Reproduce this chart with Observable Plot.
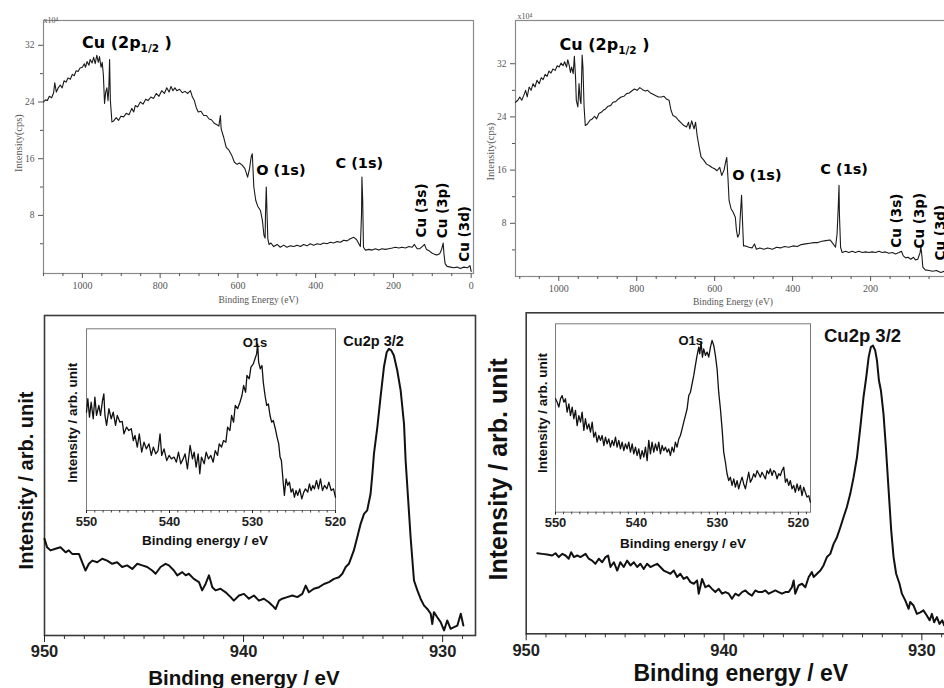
<!DOCTYPE html>
<html><head><meta charset="utf-8">
<script src="https://cdn.jsdelivr.net/npm/d3@7"></script>
<script src="https://cdn.jsdelivr.net/npm/@observablehq/plot@0.6"></script>
<style>
html,body{margin:0;padding:0;background:#fff;overflow:hidden;}
#fig{position:relative;width:944px;height:688px;overflow:hidden;background:#fff;}
#fig > div{position:absolute;}
#fig svg{max-width:none !important;}
</style></head><body><div id="fig"></div>
<script>
// ---------- DATA ----------
// Survey spectra: [binding energy (eV), intensity (x10^4 cps)]
const surveyLeft = [
[1100,24.0],[1095,24.3],[1090,24.2],[1085,24.8],[1079,24.6],[1074,25.3],[1071,26.7],[1067,25.4],[1062,26.0],[1057,26.4],[1052,26.0],[1047,27.0],[1042,26.8],[1037,27.4],[1031,27.2],[1026,27.9],[1021,27.7],[1016,28.4],[1011,28.3],[1006,28.8],[1000,28.9],[995,29.4],[992,28.9],[988,29.7],[983,29.2],[980,30.0],[975,29.5],[971,30.3],[967,29.4],[963,30.6],[959,29.6],[956,30.4],[952,28.9],[949,29.6],[946,27.8],[943,23.8],[940,25.4],[937,26.0],[934,24.2],[932,25.9],[930,30.0],[928,24.2],[924,21.2],[920,21.3],[913,21.8],[907,21.4],[901,22.0],[894,21.9],[887,22.4],[880,22.2],[873,23.1],[868,22.6],[864,23.5],[858,23.3],[851,24.0],[844,23.7],[837,24.4],[831,24.2],[824,24.7],[817,24.5],[810,25.2],[803,24.8],[796,25.6],[789,25.2],[783,26.0],[777,25.4],[772,26.2],[767,25.6],[762,26.0],[757,25.6],[750,25.8],[743,25.3],[736,25.5],[729,25.2],[722,25.6],[717,24.7],[712,24.2],[707,23.2],[702,22.6],[695,22.7],[688,22.1],[681,22.1],[674,21.6],[668,21.5],[661,21.0],[654,20.8],[649,20.6],[645,22.1],[643,20.2],[637,19.1],[630,17.6],[623,17.2],[616,16.5],[609,15.5],[602,15.2],[596,15.4],[589,15.1],[582,14.6],[575,13.4],[570,14.6],[566,16.2],[563,16.7],[559,12.0],[554,10.1],[549,9.3],[542,8.7],[537,7.3],[533,5.2],[530,4.8],[529,8.2],[527,12.0],[525,8.2],[523,4.7],[520,3.9],[515,4.1],[508,3.6],[499,3.9],[491,3.5],[482,3.8],[474,3.5],[465,3.7],[456,3.6],[448,3.8],[439,3.6],[431,3.9],[422,3.7],[414,4.0],[405,3.8],[396,4.0],[388,3.9],[379,4.1],[371,4.0],[362,4.2],[354,4.1],[345,4.3],[336,4.2],[328,4.5],[319,4.4],[311,4.7],[302,4.9],[295,4.6],[290,4.1],[285,3.6],[282,8.2],[281,13.4],[279,10.1],[277,3.5],[272,3.1],[263,3.2],[255,3.1],[246,3.3],[238,3.1],[229,3.3],[221,3.2],[212,3.3],[203,3.4],[195,3.5],[186,3.4],[178,3.5],[169,3.4],[160,3.6],[152,3.5],[146,3.9],[139,3.3],[132,3.3],[126,3.6],[120,3.9],[115,3.2],[108,3.0],[101,2.7],[94,2.5],[88,2.4],[81,2.6],[76,3.2],[72,4.1],[70,2.6],[67,1.2],[62,0.8],[53,0.7],[45,0.6],[36,0.7],[28,0.5],[19,0.7],[10,0.6],[3,0.9],[0,0.1]
];
const surveyRight = [
[1111,26.2],[1105,26.5],[1100,27.0],[1095,26.5],[1090,27.2],[1085,28.0],[1081,27.0],[1076,28.5],[1071,28.0],[1066,29.0],[1061,28.5],[1056,29.5],[1050,29.0],[1045,29.9],[1040,29.6],[1035,30.4],[1030,30.1],[1025,30.9],[1020,30.6],[1015,31.2],[1009,31.0],[1004,31.7],[999,31.5],[994,32.1],[989,31.7],[985,32.3],[980,31.5],[977,32.6],[973,31.7],[970,30.7],[967,31.5],[963,30.5],[960,33.1],[957,30.0],[955,26.5],[951,25.5],[948,29.0],[945,26.5],[943,26.0],[940,33.3],[938,31.5],[935,25.5],[932,22.7],[927,22.9],[920,23.5],[914,23.7],[908,24.1],[903,23.7],[897,24.5],[891,24.7],[886,25.0],[880,25.2],[874,25.6],[867,25.7],[861,26.2],[854,26.3],[847,26.7],[840,27.0],[833,27.1],[826,27.5],[819,27.6],[813,27.9],[806,28.2],[799,28.0],[792,28.4],[785,28.1],[778,27.9],[772,28.0],[765,27.6],[758,27.4],[751,27.2],[744,27.0],[737,27.0],[730,27.1],[724,26.7],[717,26.5],[712,25.0],[707,24.2],[700,24.0],[693,23.5],[686,23.1],[679,22.7],[672,22.5],[667,23.2],[664,22.2],[659,23.4],[653,22.2],[649,23.2],[645,21.2],[640,19.5],[635,18.0],[628,17.5],[621,16.9],[614,16.7],[607,16.4],[600,16.2],[594,15.9],[587,16.4],[582,15.2],[576,16.0],[572,17.2],[569,17.9],[566,14.9],[563,11.4],[558,10.2],[553,9.7],[547,8.9],[544,6.9],[541,5.9],[537,6.4],[534,9.4],[531,12.2],[529,8.9],[526,4.6],[521,4.6],[512,4.4],[504,4.3],[498,4.9],[493,4.1],[484,4.3],[474,4.1],[464,4.3],[452,4.1],[441,4.4],[431,4.3],[421,4.5],[410,4.4],[399,4.6],[388,4.5],[378,4.8],[367,4.9],[356,5.0],[345,5.1],[335,5.1],[325,5.3],[315,5.4],[304,5.5],[296,4.9],[290,4.4],[286,6.4],[283,10.4],[281,13.7],[280,9.4],[277,4.4],[273,3.6],[264,3.8],[256,3.6],[247,3.8],[239,3.6],[230,3.8],[221,3.6],[213,3.7],[204,3.6],[196,3.7],[187,3.6],[179,3.8],[170,3.6],[162,3.7],[153,3.5],[144,3.6],[136,3.4],[127,3.6],[121,3.8],[116,3.1],[110,2.8],[104,2.9],[97,2.6],[90,2.9],[85,2.5],[79,2.6],[73,3.6],[71,4.5],[68,2.9],[66,1.4],[60,1.0],[50,0.9],[41,0.8],[31,0.9],[20,0.6],[10,0.8]
];
// Cu2p 3/2 high-resolution spectra: [binding energy (eV), intensity (arb. unit, 0-100)]
const cu2pLeft = [
[950.0,30.2],[949.87,27.6],[949.70,26.6],[949.45,27.1],[949.20,27.6],[948.94,26.0],[948.78,26.6],[948.61,25.5],[948.27,25.5],[948.11,22.9],[947.94,20.3],[947.77,22.4],[947.60,23.4],[947.35,22.9],[947.10,24.0],[946.85,23.4],[946.60,22.4],[946.35,22.9],[946.10,21.4],[945.85,21.9],[945.59,20.8],[945.34,22.4],[945.09,21.9],[944.84,21.4],[944.59,20.3],[944.42,19.3],[944.17,21.4],[943.92,22.4],[943.75,21.9],[943.50,20.3],[943.33,18.8],[943.08,19.8],[942.91,18.8],[942.75,19.3],[942.50,17.7],[942.24,16.7],[942.08,14.1],[941.91,16.1],[941.74,18.8],[941.57,15.1],[941.41,14.1],[941.16,14.6],[940.90,13.5],[940.65,12.0],[940.49,10.9],[940.23,12.5],[939.98,13.0],[939.73,11.5],[939.48,12.5],[939.23,10.9],[938.98,11.5],[938.73,10.4],[938.56,9.4],[938.39,8.3],[938.22,10.9],[938.06,11.5],[937.81,12.0],[937.55,12.5],[937.30,12.0],[937.05,13.0],[936.88,15.6],[936.72,13.5],[936.47,14.6],[936.21,15.1],[935.96,16.1],[935.71,16.7],[935.46,17.7],[935.21,18.2],[935.04,19.3],[934.87,21.4],[934.71,22.4],[934.46,26.6],[934.29,30.7],[934.12,34.9],[933.95,38.0],[933.79,39.1],[933.62,44.3],[933.53,50.5],[933.45,56.8],[933.28,65.1],[933.12,74.5],[932.95,83.9],[932.81,88.5],[932.70,89.6],[932.58,89.1],[932.45,87.5],[932.28,82.8],[932.11,76.6],[931.94,66.1],[931.86,54.7],[931.74,43.2],[931.61,30.7],[931.44,17.2],[931.27,14.1],[931.11,11.5],[930.94,9.4],[930.77,8.3],[930.60,6.8],[930.52,3.6],[930.44,7.3],[930.27,5.7],[930.10,4.2],[929.93,1.6],[929.77,4.7],[929.60,2.1],[929.43,2.6],[929.26,3.1],[929.09,6.8],[928.96,3.1]
];
const cu2pRight = [
[949.44,25.1],[949.19,24.9],[948.94,24.7],[948.69,24.4],[948.52,25.1],[948.35,23.9],[948.18,24.9],[948.01,24.4],[947.85,23.4],[947.73,25.4],[947.59,23.9],[947.42,24.4],[947.26,23.9],[947.00,24.9],[946.84,23.4],[946.67,22.8],[946.50,21.8],[946.33,23.4],[946.16,22.3],[945.99,23.9],[945.86,24.4],[945.74,20.8],[945.57,22.3],[945.40,19.7],[945.24,22.3],[945.07,20.8],[944.90,22.8],[944.73,21.3],[944.56,22.3],[944.39,20.8],[944.23,21.8],[944.06,20.2],[943.89,21.8],[943.72,20.8],[943.55,21.3],[943.38,21.8],[943.22,20.8],[943.05,19.7],[942.88,19.2],[942.71,18.7],[942.54,19.7],[942.37,17.7],[942.21,18.7],[942.04,17.1],[941.87,17.7],[941.70,16.1],[941.53,15.6],[941.36,16.6],[941.28,12.5],[941.11,17.1],[940.94,14.5],[940.77,15.1],[940.61,14.0],[940.44,13.0],[940.27,14.0],[940.10,12.5],[939.93,13.0],[939.76,12.5],[939.60,10.9],[939.43,12.5],[939.26,11.9],[939.09,13.0],[938.92,13.5],[938.75,12.5],[938.59,11.9],[938.42,13.5],[938.25,13.0],[938.08,13.0],[937.91,13.5],[937.74,12.5],[937.58,13.0],[937.41,13.5],[937.24,13.0],[937.07,12.5],[936.90,13.0],[936.73,13.0],[936.57,14.5],[936.48,16.6],[936.40,12.5],[936.23,15.1],[936.06,15.6],[935.89,14.5],[935.72,17.7],[935.56,19.2],[935.47,17.7],[935.30,18.7],[935.13,19.7],[934.97,21.3],[934.80,23.9],[934.63,24.9],[934.46,28.0],[934.29,30.1],[934.12,33.2],[933.96,36.3],[933.79,39.5],[933.62,43.6],[933.45,48.8],[933.28,55.0],[933.11,64.4],[932.95,73.7],[932.81,80.0],[932.69,86.2],[932.58,89.3],[932.47,89.8],[932.36,88.3],[932.27,85.2],[932.17,78.9],[932.07,75.8],[931.94,68.5],[931.82,58.2],[931.68,44.7],[931.55,32.2],[931.43,23.9],[931.30,18.7],[931.13,15.6],[931.01,12.5],[930.84,10.4],[930.67,7.8],[930.59,9.9],[930.42,8.8],[930.25,6.2],[930.08,6.7],[929.92,7.3],[929.75,5.7],[929.61,4.2],[929.49,6.2],[929.38,3.6],[929.24,5.2],[929.11,3.1],[928.97,4.2],[928.87,2.6]
];
// O1s inset spectra: [binding energy (eV), intensity (arb. unit, 0-100)]
const o1sLeft = [
[550.00,54.1],[549.84,61.5],[549.64,51.4],[549.44,59.6],[549.19,50.5],[548.99,62.4],[548.79,52.3],[548.51,57.8],[548.31,52.3],[548.07,60.6],[547.91,64.2],[547.78,52.3],[547.58,46.8],[547.30,56.0],[547.02,50.5],[546.78,54.1],[546.50,46.8],[546.29,52.3],[545.97,48.6],[545.69,49.0],[545.49,42.2],[545.17,45.9],[544.89,44.0],[544.60,45.0],[544.36,38.5],[544.16,41.3],[543.88,34.9],[543.64,42.2],[543.35,32.1],[543.07,37.6],[542.79,33.9],[542.47,36.7],[542.19,30.3],[541.95,34.9],[541.66,31.2],[541.38,33.0],[541.14,42.2],[540.94,30.3],[540.66,33.9],[540.33,27.5],[540.05,30.3],[539.77,28.4],[539.45,29.4],[539.17,26.6],[538.92,32.1],[538.64,25.7],[538.36,28.4],[538.12,31.2],[537.84,22.9],[537.52,35.8],[537.23,28.4],[537.03,32.1],[536.79,23.9],[536.55,31.2],[536.35,20.2],[536.15,29.4],[535.82,25.7],[535.58,32.1],[535.30,28.4],[535.02,30.3],[534.74,26.6],[534.49,33.0],[534.21,30.3],[534.01,36.7],[533.73,34.9],[533.49,38.5],[533.21,37.6],[533.00,45.9],[532.72,44.0],[532.52,52.3],[532.28,48.6],[532.08,57.8],[531.80,56.0],[531.51,59.6],[531.27,63.3],[531.07,68.8],[530.83,65.1],[530.67,74.3],[530.39,72.5],[530.19,78.9],[529.90,80.7],[529.70,83.5],[529.50,86.2],[529.38,91.7],[529.26,81.7],[529.06,78.0],[528.86,79.8],[528.70,70.6],[528.49,63.3],[528.29,57.8],[528.09,58.7],[527.89,52.3],[527.69,48.6],[527.49,49.5],[527.25,45.0],[527.04,40.4],[526.84,36.7],[526.68,29.4],[526.52,27.5],[526.32,16.5],[526.16,8.3],[525.96,17.4],[525.76,13.8],[525.55,15.6],[525.35,10.1],[525.15,11.9],[524.95,7.3],[524.75,11.0],[524.55,8.3],[524.31,11.9],[524.06,6.4],[523.82,10.1],[523.62,11.9],[523.34,10.1],[523.14,14.7],[522.94,11.0],[522.73,13.8],[522.53,11.9],[522.29,16.5],[522.05,11.9],[521.81,17.4],[521.57,11.0],[521.32,13.8],[521.04,11.9],[520.80,15.6],[520.52,11.0],[520.24,11.9],[520.00,7.3]
];
const o1sRight = [
[550.00,60.2],[549.79,58.4],[549.59,55.8],[549.38,60.2],[549.18,61.9],[548.97,58.4],[548.77,60.2],[548.56,53.1],[548.35,57.5],[548.15,51.3],[547.94,55.8],[547.74,49.6],[547.53,54.0],[547.33,46.0],[547.12,51.3],[546.91,47.8],[546.71,53.1],[546.50,43.4],[546.30,49.6],[546.09,44.2],[545.88,46.9],[545.68,42.5],[545.47,47.8],[545.27,39.8],[545.06,42.5],[544.86,37.2],[544.65,40.7],[544.44,38.1],[544.24,40.7],[544.03,35.4],[543.83,39.8],[543.62,36.3],[543.42,38.9],[543.21,34.5],[543.00,38.1],[542.80,35.4],[542.59,39.8],[542.39,34.5],[542.18,38.1],[541.98,33.6],[541.77,37.2],[541.56,32.7],[541.36,36.3],[541.15,33.6],[540.95,37.2],[540.74,31.9],[540.53,36.3],[540.33,31.0],[540.12,34.5],[539.92,30.1],[539.71,33.6],[539.51,28.3],[539.30,32.7],[539.09,29.2],[538.89,34.5],[538.68,27.4],[538.48,38.1],[538.27,31.0],[538.07,37.2],[537.86,31.9],[537.65,36.3],[537.45,32.7],[537.24,37.2],[537.04,31.0],[536.83,35.4],[536.63,32.7],[536.42,34.5],[536.21,31.9],[536.01,33.6],[535.80,30.1],[535.60,34.5],[535.39,31.9],[535.19,37.2],[534.98,34.5],[534.77,38.9],[534.57,40.7],[534.36,44.2],[534.16,47.8],[533.95,51.3],[533.74,54.9],[533.54,61.9],[533.33,63.7],[533.13,68.1],[532.92,72.6],[532.72,77.9],[532.51,83.2],[532.30,87.6],[532.18,84.1],[532.02,90.3],[531.85,82.3],[531.69,86.7],[531.48,83.2],[531.28,85.0],[531.07,82.3],[530.86,87.6],[530.66,91.2],[530.45,88.5],[530.25,83.2],[530.04,76.1],[529.84,63.7],[529.63,54.9],[529.42,44.2],[529.22,31.9],[529.01,26.5],[528.81,20.4],[528.60,16.8],[528.40,18.6],[528.19,14.2],[527.98,17.7],[527.78,13.3],[527.57,16.8],[527.37,12.4],[527.16,15.9],[526.95,18.6],[526.75,15.0],[526.54,12.4],[526.34,16.8],[526.13,21.2],[525.93,15.9],[525.72,17.7],[525.51,20.4],[525.31,18.6],[525.10,22.1],[524.90,20.4],[524.69,18.6],[524.49,21.2],[524.28,19.5],[524.07,17.7],[523.87,22.1],[523.66,20.4],[523.46,23.0],[523.25,19.5],[523.05,22.1],[522.84,21.2],[522.63,17.7],[522.43,20.4],[522.22,19.5],[522.02,22.1],[521.81,23.9],[521.60,15.9],[521.40,17.7],[521.19,14.2],[520.99,16.8],[520.78,12.4],[520.58,14.2],[520.37,10.6],[520.16,15.0],[519.96,11.5],[519.75,14.2],[519.55,8.8],[519.34,13.3],[519.14,10.6],[518.93,8.0],[518.72,8.8],[518.52,5.3]
];
// Tick values
const surveyMajorX = [1000, 800, 600, 400, 200, 0];
const surveyMajorY = [8, 16, 24, 32];
const surveyMinorY = [4, 12, 20, 28];
const cuMajorX = [950, 940, 930];
const oMajorX = [550, 540, 530, 520];
// Peak labels
const surveyLabelsLeft = [
  {t: "O (1s)", E: 553, v: 14.3},
  {t: "C (1s)", E: 349, v: 15.3}
];
const surveyRotLabelsLeft = [
  {t: "Cu (3s)", E: 128, v: 8.7},
  {t: "Cu (3p)", E: 74, v: 8.7},
  {t: "Cu (3d)", E: 17, v: 5.4}
];
const surveyLabelsRight = [
  {t: "O (1s)", E: 555, v: 15.2},
  {t: "C (1s)", E: 329, v: 16.1}
];
const surveyRotLabelsRight = [
  {t: "Cu (3s)", E: 132, v: 8.4},
  {t: "Cu (3p)", E: 73, v: 8.4},
  {t: "Cu (3d)", E: 21, v: 6.6}
];
const cuLabelLeft = [{t: "Cu (2p1/2 )", E: 1001, v: 32.35}];
const cuLabelRight = [{t: "Cu (2p1/2 )", E: 998, v: 34.9}];

// ---------- DRAWING ----------
const fig = document.getElementById("fig");
const serif = "'Liberation Serif','Times New Roman',serif";
const sans = "'Liberation Sans',Arial,sans-serif";
const verd = "'DejaVu Sans',Verdana,sans-serif";
const NS = "http://www.w3.org/2000/svg";

function place(svg, left, top) {
  const w = document.createElement("div");
  w.style.left = left + "px"; w.style.top = top + "px";
  w.style.width = svg.getAttribute("width") + "px";
  w.appendChild(svg); fig.appendChild(w);
}
function subscriptify(svg) {
  svg.querySelectorAll("text").forEach(t => {
    if (t.textContent === "Cu (2p1/2 )") {
      while (t.firstChild) t.removeChild(t.firstChild);
      const a = document.createElementNS(NS, "tspan"); a.textContent = "Cu (2p";
      const b = document.createElementNS(NS, "tspan"); b.textContent = "1/2";
      b.setAttribute("font-size", "10.5"); b.setAttribute("dy", "4");
      const c = document.createElementNS(NS, "tspan"); c.textContent = " )";
      c.setAttribute("dy", "-4");
      t.appendChild(a); t.appendChild(b); t.appendChild(c);
    }
  });
}

function survey(data, opts) {
  const svg = Plot.plot({
    width: 480, height: 312,
    marginLeft: opts.ml, marginRight: opts.mr, marginTop: 20, marginBottom: opts.mb,
    style: {background: "transparent", fontFamily: serif, fontSize: "10px", color: "#222"},
    x: {type: "linear", domain: opts.xd},
    y: {type: "linear", domain: opts.yd},
    marks: [
      Plot.frame({stroke: "#8a8a8a", strokeWidth: 1.2}),
      Plot.axisX(surveyMajorX, {tickSize: 5, tickPadding: 3, color: "#555", fontFamily: serif, fontSize: 10, tickFormat: d => String(d), label: null}),
      Plot.axisX(d3.range(1100, -1, -50).filter(v => v % 200 !== 0), {tickSize: 3, color: "#555", tickFormat: () => "", label: null}),
      Plot.axisY(surveyMajorY, {tickSize: 5, tickPadding: 4, color: "#555", fontFamily: serif, fontSize: 9.5, tickFormat: d => String(d), label: null}),
      Plot.axisY(surveyMinorY, {tickSize: 3, color: "#555", tickFormat: () => "", label: null}),
      Plot.line(data, {x: d => d[0], y: d => d[1], stroke: "#1a1a1a", strokeWidth: 1.1}),
      Plot.text(opts.labels, {x: "E", y: "v", text: "t", textAnchor: "start", lineAnchor: "middle", fontFamily: verd, fontWeight: "bold", fontSize: 14.5, fill: "#000"}),
      Plot.text(opts.rot, {x: "E", y: "v", text: "t", rotate: -90, textAnchor: "middle", lineAnchor: "middle", fontFamily: verd, fontWeight: "bold", fontSize: 13.5, fill: "#000"}),
      Plot.text(opts.cu, {x: "E", y: "v", text: "t", textAnchor: "start", lineAnchor: "middle", fontFamily: verd, fontWeight: "bold", fontSize: 16, fill: "#000"}),
      Plot.text(["x10\u2074"], {text: d => d, frameAnchor: "top-left", textAnchor: "start", lineAnchor: "bottom", dx: opts.xdx, dy: opts.xdy, fontFamily: serif, fontSize: 8, fill: "#555"}),
      Plot.text(["Intensity(cps)"], {text: d => d, frameAnchor: "left", rotate: -90, textAnchor: "middle", lineAnchor: "middle", dx: -25, dy: opts.ydy, fontFamily: serif, fontSize: 10.5, fill: "#555"}),
      Plot.text(["Binding Energy (eV)"], {text: d => d, frameAnchor: "bottom", textAnchor: "middle", lineAnchor: "middle", dy: opts.lbdy, fontFamily: serif, fontSize: 9.5, fill: "#555"})
    ]
  });
  subscriptify(svg);
  return svg;
}

place(survey(surveyLeft, {ml: 43, mr: 7, mb: 39, xd: [1100, -6], yd: [-0.2, 35.5], labels: surveyLabelsLeft, rot: surveyRotLabelsLeft, cu: cuLabelLeft, xdx: 0, xdy: 2, ydy: -4, lbdy: 26}), 0, 0);
place(survey(surveyRight, {ml: 35, mr: 10, mb: 36, xd: [1111, -5], yd: [0, 38.5], labels: surveyLabelsRight, rot: surveyRotLabelsRight, cu: cuLabelRight, xdx: 2, xdy: -2, ydy: 3, lbdy: 25}), 480, 0);

function cuPlot(data, opts) {
  return Plot.plot({
    width: 480, height: 388,
    marginLeft: opts.ml, marginRight: 5, marginTop: opts.mt, marginBottom: opts.mb,
    style: {background: "transparent", fontFamily: sans, fontSize: "16px", color: "#111"},
    x: {type: "linear", domain: opts.xd},
    y: {type: "linear", domain: [0, 100], axis: null},
    marks: [
      Plot.frame({stroke: "#3a3a3a", strokeWidth: 1.6}),
      Plot.axisX(cuMajorX, {tickSize: 7, tickPadding: 3, color: "#222", fontFamily: sans, fontWeight: "bold", fontSize: 16.5, tickFormat: d => String(d), label: null}),
      Plot.axisX(d3.range(949, 928, -1).filter(v => v % 10 !== 0), {tickSize: 4, color: "#333", tickFormat: () => "", label: null}),
      Plot.line(data, {x: d => d[0], y: d => d[1], stroke: "#111", strokeWidth: 2}),
      Plot.text(["Cu2p 3/2"], {text: d => d, x: () => opts.lab[0], y: () => opts.lab[1], textAnchor: "middle", lineAnchor: "middle", fontFamily: sans, fontWeight: "bold", fontSize: opts.labfs, fill: "#111"}),
      Plot.text(["Intensity / arb. unit"], {text: d => d, frameAnchor: "left", rotate: -90, textAnchor: "middle", lineAnchor: "middle", dx: opts.ydx, dy: opts.ydy, fontFamily: sans, fontWeight: "bold", fontSize: opts.yfs, fill: "#111"}),
      Plot.text(["Binding energy / eV"], {text: d => d, frameAnchor: "bottom", textAnchor: "middle", lineAnchor: "middle", dx: opts.xldx, dy: opts.xldy, fontFamily: sans, fontWeight: "bold", fontSize: opts.xfs, fill: "#111"})
    ]
  });
}
function oPlot(data, opts) {
  return Plot.plot({
    width: opts.w, height: opts.h,
    marginLeft: opts.ml, marginRight: opts.mr, marginTop: opts.mt, marginBottom: opts.mb,
    style: {background: "transparent", fontFamily: sans, fontSize: "13px", color: "#111"},
    x: {type: "linear", domain: opts.xd},
    y: {type: "linear", domain: [0, 100], axis: null},
    marks: [
      Plot.frame({stroke: "#7a7a7a", strokeWidth: 1}),
      Plot.axisX(oMajorX, {tickSize: 3, tickPadding: 3, color: "#222", fontFamily: sans, fontWeight: "bold", fontSize: 13, tickFormat: d => String(d), label: null}),
      Plot.axisX(d3.range(549, 518, -1).filter(v => v % 10 !== 0 && v >= opts.xd[1]), {tickSize: 2.5, color: "#444", tickFormat: () => "", label: null}),
      Plot.line(data, {x: d => d[0], y: d => d[1], stroke: "#111", strokeWidth: 1.3}),
      Plot.text(["O1s"], {text: d => d, x: () => opts.lab[0], y: () => opts.lab[1], textAnchor: "middle", lineAnchor: "middle", fontFamily: sans, fontWeight: "bold", fontSize: 13, fill: "#111"}),
      Plot.text(["Intensity / arb. unit"], {text: d => d, frameAnchor: "left", rotate: -90, textAnchor: "middle", lineAnchor: "middle", dx: opts.ydx, dy: opts.ydy, fontFamily: sans, fontWeight: "bold", fontSize: 13.5, fill: "#111"}),
      Plot.text(["Binding energy / eV"], {text: d => d, frameAnchor: "bottom", textAnchor: "middle", lineAnchor: "middle", dx: opts.xldx, dy: opts.xldy, fontFamily: sans, fontWeight: "bold", fontSize: 13.5, fill: "#111"})
    ]
  });
}

place(cuPlot(cu2pLeft, {ml: 44, mt: 15, mb: 53, xd: [950, 928.35], lab: [933.47, 91.9], labfs: 14.5, ydx: -18, ydy: 5, yfs: 20, xldx: -16, xldy: 43, xfs: 20.5}), 0, 300);
place(cuPlot(cu2pRight, {ml: 45.7, mt: 12.3, mb: 54.7, xd: [950, 928.3], lab: [933.0, 92.6], labfs: 18.5, ydx: -27, ydy: -4, yfs: 25, xldx: 0, xldy: 40, xfs: 23}), 480, 300);
place(oPlot(o1sLeft, {w: 290, h: 235, ml: 26, mr: 15, mt: 8.3, mb: 45, xd: [550, 520], lab: [529.7, 92.3], ydx: -14, ydy: 3, xldx: -6, xldy: 30}), 60, 320);
place(oPlot(o1sRight, {w: 300, h: 240, ml: 35, mr: 10, mt: 8.3, mb: 43.3, xd: [550, 518.5], lab: [533.3, 91.1], ydx: -13, ydy: -5, xldx: 0, xldy: 31}), 520, 315);
</script>
</body></html>
